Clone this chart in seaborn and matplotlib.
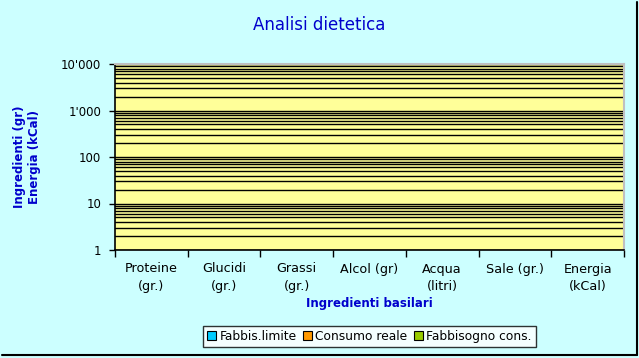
import matplotlib
matplotlib.use('Agg')
import matplotlib.pyplot as plt
import matplotlib.ticker as mticker
from matplotlib.lines import Line2D
import seaborn as sns
import pandas as pd
import numpy as np

# --- Data ---
categories = ['Proteine\n(gr.)', 'Glucidi\n(gr.)', 'Grassi\n(gr.)', 'Alcol (gr)',
              'Acqua\n(litri)', 'Sale (gr.)', 'Energia\n(kCal)']
series_names = ['Fabbis.limite', 'Consumo reale', 'Fabbisogno cons.']
fabbis_limite = [0, 0, 0, 0, 0, 0, 0]
consumo_reale = [0, 0, 0, 0, 0, 0, 0]
fabbisogno_cons = [0, 0, 0, 0, 0, 0, 0]
series_colors = ['#00CCFF', '#FF9900', '#99CC00']
y_ticks = [1, 10, 100, 1000, 10000]

rows = []
for name, vals in zip(series_names, [fabbis_limite, consumo_reale, fabbisogno_cons]):
    for cat, v in zip(categories, vals):
        rows.append({'Categoria': cat, 'Serie': name, 'Valore': v})
df = pd.DataFrame(rows)

sns.set_style('white')
plt.rcParams['font.family'] = ['DejaVu Sans']
plt.rcParams['text.color'] = 'black'

fig = plt.figure(figsize=(6.39, 3.58), dpi=100, facecolor='#CCFFFF')
ax = fig.add_axes([115 / 639, 1 - 250 / 358, (624 - 115) / 639, (250 - 64) / 358])
ax.set_facecolor('#FFFF99')

sns.barplot(data=df, x='Categoria', y='Valore', hue='Serie', palette=series_colors,
            order=categories, hue_order=series_names, ax=ax, edgecolor='black',
            linewidth=0.8, errorbar=None, saturation=1)

ax.set_yscale('log')
ax.set_ylim(1, 10000)
ax.set_xlim(-0.5, len(categories) - 0.5)

# grid lines at every decade step
ax.yaxis.set_major_locator(mticker.FixedLocator(y_ticks))
ax.yaxis.set_minor_locator(mticker.LogLocator(base=10, subs=np.arange(2, 10)))
ax.yaxis.set_major_formatter(mticker.FuncFormatter(lambda v, p: f"{int(v):,}".replace(',', "'")))
ax.yaxis.set_minor_formatter(mticker.NullFormatter())
ax.grid(True, which='both', axis='y', color='black', linewidth=1)
ax.set_axisbelow(True)

# category boundaries as ticks, labels at centers
ax.xaxis.set_major_locator(mticker.FixedLocator(np.arange(-0.5, len(categories), 1)))
ax.xaxis.set_major_formatter(mticker.NullFormatter())
ax.xaxis.set_minor_locator(mticker.FixedLocator(np.arange(len(categories))))
ax.xaxis.set_minor_formatter(mticker.FixedFormatter(categories))

ax.tick_params(axis='x', which='major', direction='out', length=5, width=1, color='black')
ax.tick_params(axis='x', which='minor', length=0, pad=9, labelsize=9.2, labelcolor='black')
ax.tick_params(axis='y', which='major', direction='out', length=4, width=1,
               color='black', labelsize=8.5, pad=6, labelcolor='black')
ax.tick_params(axis='y', which='minor', length=0)
ax.tick_params(left=True, bottom=True)
for lbl in ax.xaxis.get_minorticklabels():
    lbl.set_linespacing(1.45)

for side in ['left', 'bottom']:
    ax.spines[side].set_color('black')
    ax.spines[side].set_linewidth(1.2)
for side in ['top', 'right']:
    ax.spines[side].set_color('#C0C0C0')
    ax.spines[side].set_linewidth(1.5)

ax.set_xlabel('Ingredienti basilari', color='#0000CC', fontsize=8.5, fontweight='bold', labelpad=3)
ax.set_ylabel('Ingredienti (gr)\nEnergia (kCal)', color='#0000CC', fontsize=8.5,
              fontweight='bold', labelpad=14)

fig.text(0.5, 1 - 25 / 358, 'Analisi dietetica', color='#0000CC', fontsize=12,
         ha='center', va='center')

handles, labels = ax.get_legend_handles_labels()
if ax.get_legend() is not None:
    ax.get_legend().remove()
for h in handles:
    h.set_edgecolor('black')
    h.set_linewidth(0.8)
leg = fig.legend(handles, labels, loc='center', bbox_to_anchor=(369.5 / 639, 1 - 336.5 / 358),
                 ncol=3, frameon=True, fancybox=False, edgecolor='black', facecolor='white',
                 fontsize=8.8, handlelength=0.7, handleheight=0.7, handletextpad=0.3,
                 columnspacing=0.55, borderpad=0.3, borderaxespad=0)
leg.get_frame().set_linewidth(1)
for t in leg.get_texts():
    t.set_color('black')

# figure shadow border on right and bottom
fig.add_artist(Line2D([636.5 / 639, 636.5 / 639], [1 - 2 / 358, 1 - 355 / 358],
                      color='black', linewidth=1.5, transform=fig.transFigure))
fig.add_artist(Line2D([2 / 639, 636.5 / 639], [1 - 354.5 / 358, 1 - 354.5 / 358],
                      color='black', linewidth=1.5, transform=fig.transFigure))

fig.savefig('out.png', dpi=100, facecolor=fig.get_facecolor())
